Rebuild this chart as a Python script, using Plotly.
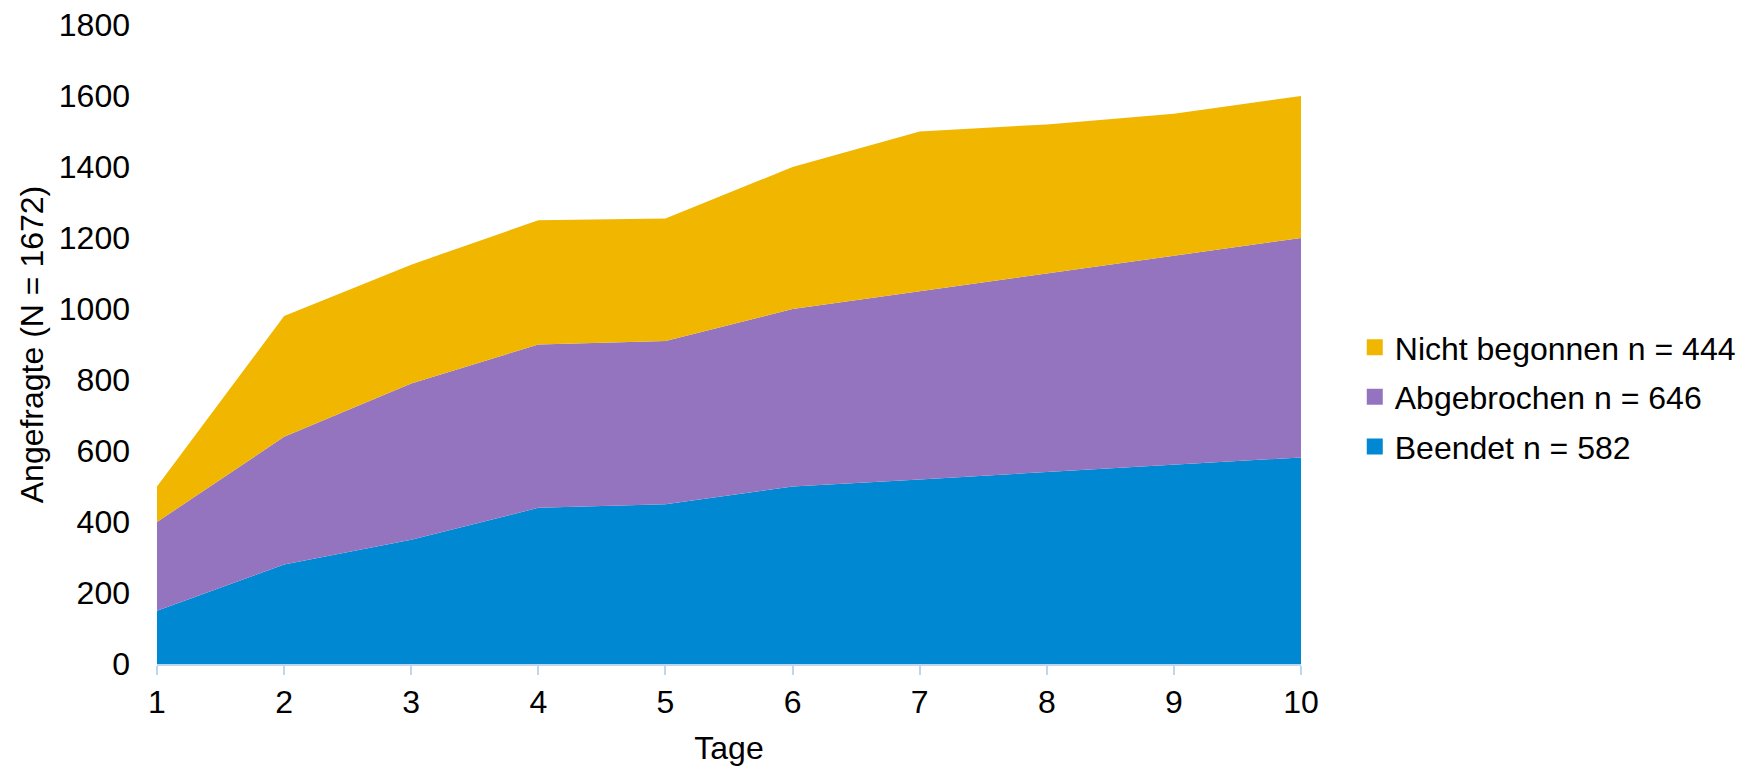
import plotly.graph_objects as go

tage = [1, 2, 3, 4, 5, 6, 7, 8, 9, 10]
beendet = [150, 280, 350, 440, 450, 500, 520, 540, 560, 582]
abgebrochen = [250, 360, 440, 460, 460, 500, 530, 560, 590, 618]
nicht_begonnen = [100, 340, 335, 350, 345, 400, 450, 420, 400, 400]

names = ["Beendet n = 582", "Abgebrochen n = 646", "Nicht begonnen n = 444"]
colors = ["#0089D2", "#9574BF", "#F0B600"]
series = [beendet, abgebrochen, nicht_begonnen]

fig = go.Figure()
for name, col, vals in zip(names, colors, series):
    fig.add_trace(go.Scatter(
        x=tage, y=vals, name=name, mode="lines", stackgroup="one",
        line=dict(width=0, color=col), fillcolor=col, showlegend=False,
    ))
# legend entries with square symbols (top entry first)
for name, col in zip(names[::-1], colors[::-1]):
    fig.add_trace(go.Scatter(
        x=[None], y=[None], name=name, mode="markers", legendgroup=name,
        marker=dict(symbol="square", size=18, color=col),
    ))

FS = 32
font = "Liberation Sans, Arial, sans-serif"
fig.update_layout(
    width=1746, height=764,
    paper_bgcolor="white", plot_bgcolor="white",
    margin=dict(l=149, r=453, t=17, b=108, autoexpand=False),
    font=dict(family=font, size=FS, color="black"),
    showlegend=True,
    legend=dict(traceorder="grouped", x=1.047, y=0.418, xanchor="left", yanchor="middle",
                font=dict(size=FS), tracegroupgap=5),
    xaxis=dict(
        range=[1, 10], tickvals=tage, ticktext=[str(t) for t in tage],
        showgrid=False, zeroline=False, showline=True, linecolor="#BDD7EE", linewidth=2,
        ticks="outside", ticklen=9, tickcolor="#BDD7EE", tickwidth=2,
        title=dict(text="Tage", font=dict(size=FS), standoff=17),
        tickfont=dict(size=FS), ticklabeloverflow="allow",
    ),
    yaxis=dict(
        range=[0, 1800], dtick=200, showgrid=False, zeroline=False, showline=False,
        ticks="", ticklabelstandoff=26, tickfont=dict(size=FS), ticklabeloverflow="allow",
        title=dict(text="Angefragte (N = 1672)", font=dict(size=FS), standoff=5),
    ),
)
fig.write_html("out.html")
